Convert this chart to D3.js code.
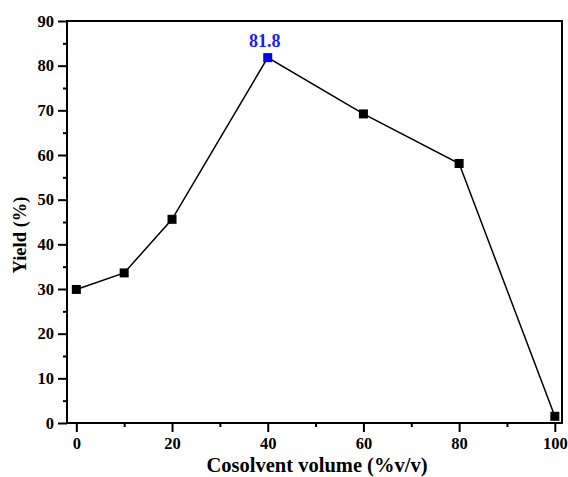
<!DOCTYPE html>
<html>
<head>
<meta charset="utf-8">
<script src="https://cdn.jsdelivr.net/npm/d3@7"></script>
<style>
  html, body { margin: 0; padding: 0; background: #fff; }
  svg { display: block; }
  text { font-family: "Liberation Serif", "Times New Roman", serif; font-weight: bold; fill: #000; }
</style>
</head>
<body>
<svg id="chart" width="568" height="477"></svg>
<script>
// Cosolvent volume (% v/v) and reaction yield (%)
const cosolvent = [0, 10, 20, 40, 60, 80, 100];
const yieldPct = [29.9, 33.6, 45.6, 81.8, 69.2, 58.1, 1.5];
const xTicks = [0, 20, 40, 60, 80, 100];
const xMinorTicks = [10, 30, 50, 70, 90];
const yTicks = [0, 10, 20, 30, 40, 50, 60, 70, 80, 90];
const yMinorTicks = [5, 15, 25, 35, 45, 55, 65, 75, 85];
const peakIndex = 3;

const W = 568, H = 477;
const margin = { top: 21, right: 6, bottom: 54, left: 67 };
const svg = d3.select("#chart");

const x = d3.scaleLinear().domain([-1.95, 101.5]).range([margin.left, W - margin.right]);
const y = d3.scaleLinear().domain([0, 90]).range([H - margin.bottom, margin.top]);

// major and minor ticks, outside the frame
const xAxis = svg.append("g").attr("transform", `translate(0,${y(0)})`)
  .call(d3.axisBottom(x).tickValues(xTicks).tickSize(9).tickPadding(5).tickFormat(d3.format("d")));
const xMinor = svg.append("g").attr("transform", `translate(0,${y(0)})`)
  .call(d3.axisBottom(x).tickValues(xMinorTicks).tickSize(4).tickFormat(""));
const yAxis = svg.append("g").attr("transform", `translate(${x.range()[0]},0)`)
  .call(d3.axisLeft(y).tickValues(yTicks).tickSize(9).tickPadding(4).tickFormat(d3.format("d")));
const yMinor = svg.append("g").attr("transform", `translate(${x.range()[0]},0)`)
  .call(d3.axisLeft(y).tickValues(yMinorTicks).tickSize(4).tickFormat(""));

[xAxis, xMinor, yAxis, yMinor].forEach(g => {
  g.select(".domain").remove();
  g.selectAll(".tick line").attr("stroke", "#000").attr("stroke-width", 2);
});
[xAxis, yAxis].forEach(g => {
  g.selectAll(".tick text").style("font-size", "16.5px")
    .style("font-family", '"Liberation Serif", "Times New Roman", serif')
    .style("font-weight", "bold").attr("fill", "#000");
});

// plot frame
svg.append("rect")
  .attr("x", x.range()[0]).attr("y", y.range()[1])
  .attr("width", x.range()[1] - x.range()[0])
  .attr("height", y.range()[0] - y.range()[1])
  .attr("fill", "none").attr("stroke", "#000").attr("stroke-width", 2);

// data line
const line = d3.line().x((d, i) => x(cosolvent[i])).y(d => y(d));
svg.append("path").datum(yieldPct)
  .attr("d", line).attr("fill", "none")
  .attr("stroke", "#000").attr("stroke-width", 1.5);

// square markers
const ms = 9;
svg.selectAll("rect.pt").data(yieldPct).enter().append("rect")
  .attr("class", "pt")
  .attr("x", (d, i) => x(cosolvent[i]) - ms / 2)
  .attr("y", d => y(d) - ms / 2)
  .attr("width", ms).attr("height", ms)
  .attr("fill", (d, i) => i === peakIndex ? "#0000ff" : "#000");

// peak value label
svg.append("text")
  .attr("x", x(cosolvent[peakIndex]) - 3)
  .attr("y", y(yieldPct[peakIndex]) - 11)
  .attr("text-anchor", "middle")
  .style("font-size", "18px")
  .style("fill", "#1a1aff")
  .text(d3.format(".1f")(yieldPct[peakIndex]));

// axis titles
svg.append("text")
  .attr("x", 317)
  .attr("y", 472)
  .attr("text-anchor", "middle")
  .style("font-size", "20.5px")
  .text("Cosolvent volume (%v/v)");

svg.append("text")
  .attr("transform", "translate(26,235) rotate(-90)")
  .attr("text-anchor", "middle")
  .style("font-size", "18.5px")
  .text("Yield (%)");
</script>
</body>
</html>
